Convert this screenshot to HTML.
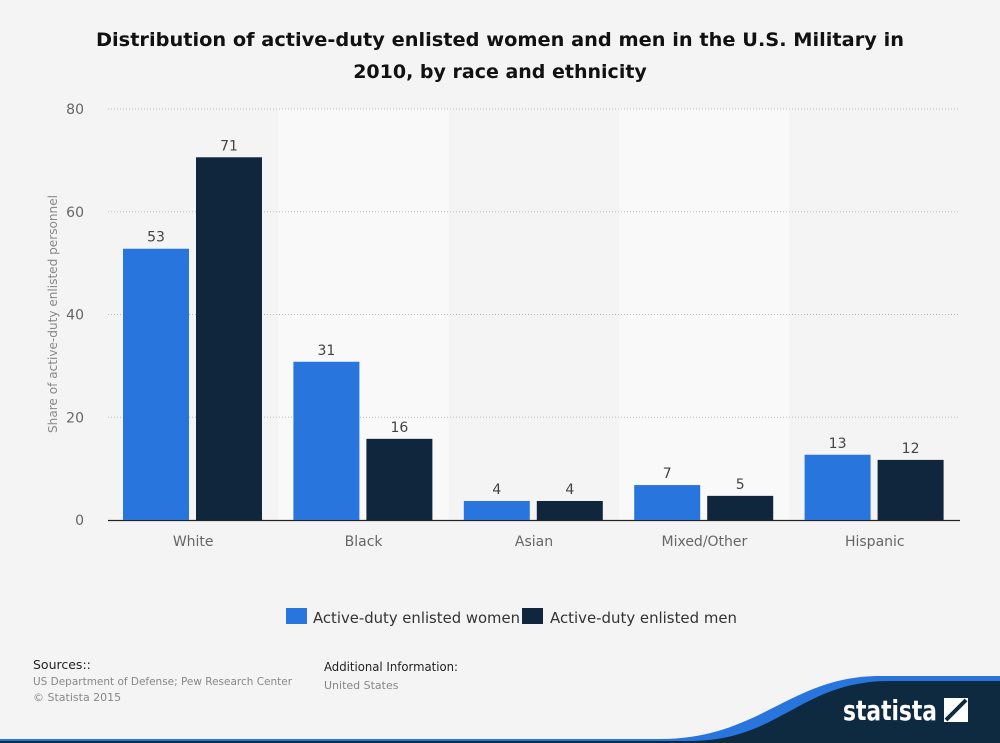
<!DOCTYPE html>
<html><head><meta charset="utf-8"><style>
body{margin:0;background:#f4f4f4;font-family:"DejaVu Sans","Liberation Sans",sans-serif;}
#wrap{position:relative;width:1000px;height:743px;overflow:hidden;background:#f4f4f4}
svg text{font-family:"DejaVu Sans","Liberation Sans",sans-serif;}
</style></head><body>
<div id="wrap">
<svg id="chart" width="1000" height="743">
<text x="500" y="46" text-anchor="middle" font-weight="bold" font-size="19" fill="#111" textLength="808" lengthAdjust="spacingAndGlyphs">Distribution of active-duty enlisted women and men in the U.S. Military in</text>
<text x="500" y="78" text-anchor="middle" font-weight="bold" font-size="19" fill="#111">2010, by race and ethnicity</text>
<g id="bands"></g><g id="grid"></g><g id="bars"></g><g id="labels"></g>
<text transform="translate(57,314) rotate(-90)" text-anchor="middle" font-size="12" fill="#888" textLength="238" lengthAdjust="spacingAndGlyphs">Share of active-duty enlisted personnel</text>
<g>
<rect x="286" y="608" width="21" height="16" fill="#2876dd"/>
<text x="313" y="623" font-size="15" fill="#333" textLength="207" lengthAdjust="spacingAndGlyphs">Active-duty enlisted women</text>
<rect x="522" y="608" width="21" height="16" fill="#10263d"/>
<text x="550" y="623" font-size="15" fill="#333" textLength="187" lengthAdjust="spacingAndGlyphs">Active-duty enlisted men</text>
</g>
<text x="33" y="669" font-size="12.5" fill="#222">Sources::</text>
<text x="33" y="685" font-size="11" fill="#888" textLength="259" lengthAdjust="spacingAndGlyphs">US Department of Defense; Pew Research Center</text>
<text x="33" y="701" font-size="11" fill="#888">© Statista 2015</text>
<text x="324" y="671" font-size="12" fill="#222" textLength="134" lengthAdjust="spacingAndGlyphs">Additional Information:</text>
<text x="324" y="689" font-size="11" fill="#888">United States</text>
<path d="M0,739 L660,739 C760,739 790,676 880,676 L1000,676 L1000,743 L0,743 Z" fill="#2876dd"/>
<path d="M0,741 L690,741 C780,741 800,681 890,681 L1000,681 L1000,743 L0,743 Z" fill="#0e2a40"/>
<text x="843" y="720" font-size="28" font-weight="bold" fill="#fff" textLength="94" lengthAdjust="spacingAndGlyphs">statista</text>
<rect x="944" y="698" width="24" height="24" fill="#fff"/>
<path d="M946,720 L966,700" stroke="#0e2a40" stroke-width="4"/>
</svg>
</div>
<script>
const categories=["White","Black","Asian","Mixed/Other","Hispanic"];
const women=[52.8,30.8,3.7,6.8,12.7];
const men=[70.6,15.8,3.7,4.7,11.7];
const womenLabels=["53","31","4","7","13"];
const menLabels=["71","16","4","5","12"];
const yTicks=[0,20,40,60,80];
const NS="http://www.w3.org/2000/svg";
const X0=108,X1=960,Y0=520,Y1=109,YMAX=80;
const cw=(X1-X0)/categories.length;
function y(v){return Y0-(v/YMAX)*(Y0-Y1);}
function mk(tag,attrs,parent){const e=document.createElementNS(NS,tag);for(const k in attrs)e.setAttribute(k,attrs[k]);document.getElementById(parent).appendChild(e);return e;}
categories.forEach((c,i)=>{if(i%2==1){const b=mk('rect',{x:X0+i*cw,y:Y1,width:cw,height:Y0-Y1,fill:'#f9f9f9'},'bands');

}});
yTicks.forEach(t=>{if(t>0){const g=mk('line',{x1:X0,x2:X1,y1:y(t),y2:y(t),stroke:'#bbb','stroke-dasharray':'1,2'},'grid');

}
const l=mk('text',{x:84,y:y(t)+5,'text-anchor':'end','font-size':14,fill:'#666'},'grid');l.textContent=t;

});
const ax=mk('line',{x1:X0,x2:X1,y1:Y0+0.5,y2:Y0+0.5,stroke:'#222','stroke-width':1.3},'grid');


categories.forEach((c,i)=>{const cx=X0+i*cw;
[[women,womenLabels,15,'#2876dd','women'],[men,menLabels,88,'#10263d','men']].forEach(s=>{
const v=s[0][i];const r=mk('rect',{x:cx+s[2],y:y(v),width:66,height:Y0-y(v),fill:s[3]},'bars');


const t=mk('text',{x:cx+s[2]+33,y:y(v)-7,'text-anchor':'middle','font-size':14,fill:'#444'},'labels');t.textContent=s[1][i];

});
const xl=mk('text',{x:cx+cw/2,y:546,'text-anchor':'middle','font-size':14,fill:'#666'},'labels');xl.textContent=c;

});
</script>
</body></html>
